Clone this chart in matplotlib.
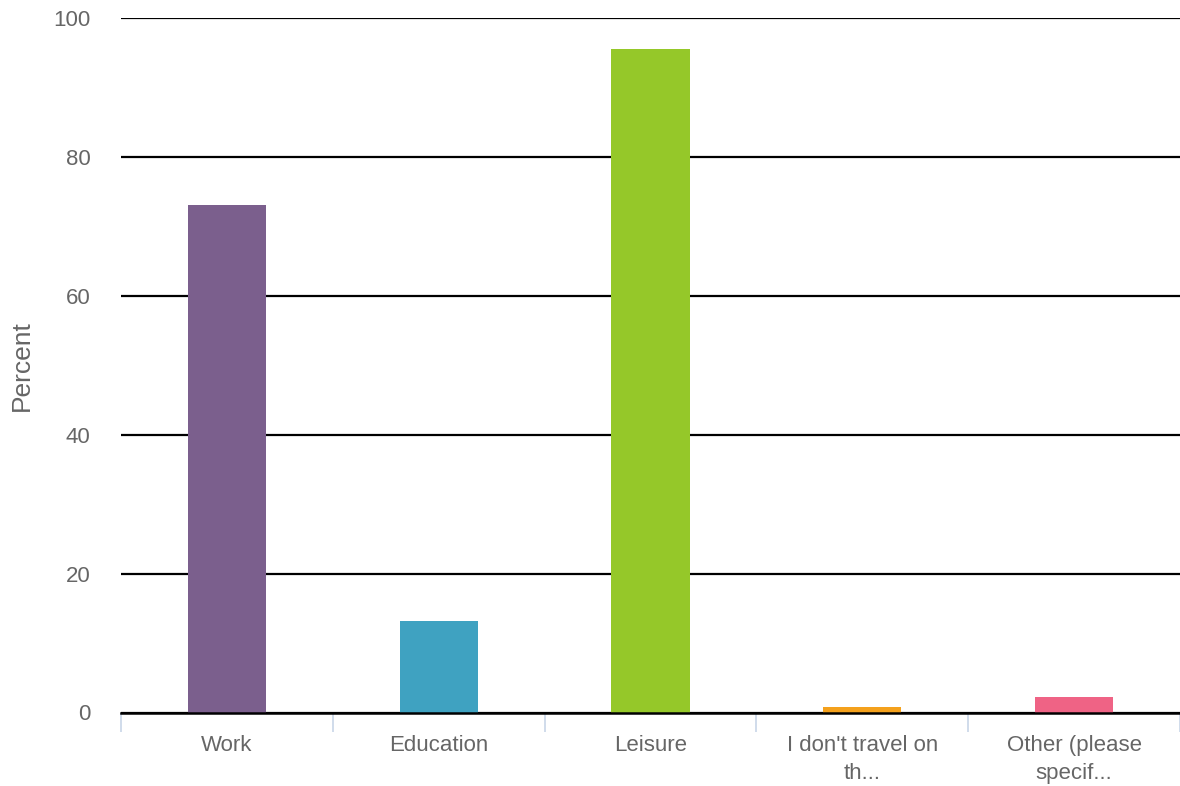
import numpy as np
import matplotlib.pyplot as plt

# survey answers, percent of respondents
categories = ["Work", "Education", "Leisure",
              "I don't travel on\nth...", "Other (please\nspecif..."]
percent    = [73.1, 13.2, 95.5, 0.8, 2.2]
colors     = ["#7b5f8d", "#3fa2c1", "#95c829", "#f4a11c", "#ef6385"]
yticks     = [0, 20, 40, 60, 80, 100]

TEXT = "#666666"

plt.rcParams["font.family"] = ["Liberation Sans", "DejaVu Sans"]

fig = plt.figure(figsize=(11.8, 7.86), dpi=100)
ax = fig.add_axes([121 / 1180, 1 - 712.5 / 786, 1 - 121 / 1180, 694.5 / 786])

x = np.arange(len(categories))
ax.bar(x, percent, width=0.37, color=colors, zorder=3)

ax.set_xlim(-0.5, len(categories) - 0.5)
ax.set_ylim(0, 100)

# horizontal grid
ax.set_yticks(yticks)
ax.yaxis.grid(True, color="black", linewidth=1.6, zorder=1)
ax.set_axisbelow(True)
ax.tick_params(axis="y", length=0, pad=22, labelsize=16, labelcolor=TEXT)
for lab in ax.get_yticklabels():
    lab.set_clip_on(False)

# category labels centred, divider ticks between categories
ax.set_xticks(x)
ax.set_xticklabels(categories, linespacing=1.45)
ax.tick_params(axis="x", which="major", length=0, pad=16,
               labelsize=16, labelcolor=TEXT)
ax.set_xticks(np.arange(len(categories) + 1) - 0.5, minor=True)
ax.tick_params(axis="x", which="minor", length=14, width=1.2,
               color="#c8d6e8", direction="out")

for side in ("top", "right", "left"):
    ax.spines[side].set_visible(False)
ax.spines["bottom"].set_color("black")
ax.spines["bottom"].set_linewidth(1.8)
ax.spines["bottom"].set_zorder(4)

ax.set_ylabel("Percent", fontsize=19, color=TEXT)
ax.yaxis.set_label_coords(-0.0935, 0.5)
ax.yaxis.label.set_verticalalignment("center")

fig.savefig("out.png", dpi=100)
